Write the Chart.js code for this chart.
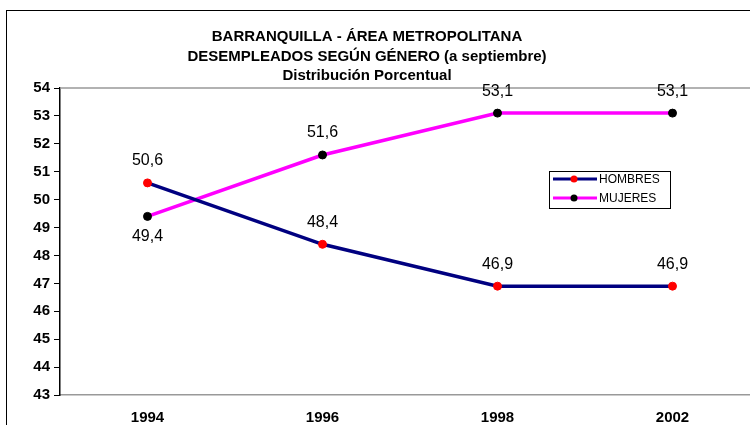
<!DOCTYPE html>
<html>
<head>
<meta charset="utf-8">
<script src="https://cdn.jsdelivr.net/npm/chart.js@4.4.1/dist/chart.umd.min.js"></script>
<style>
    html, body { margin: 0; padding: 0; background: #fff; overflow: hidden; width: 750px; height: 425px; }
    #frame { position: absolute; left: 6px; top: 10px; width: 820px; height: 500px; border: 1.5px solid #000; box-sizing: border-box; }
    #chart { position: absolute; left: 0; top: 0; }
</style>
</head>
<body>
<div id="frame"></div>
<canvas id="chart" width="772" height="425"></canvas>
<script>
// datos
var years = ['1994', '1996', '1998', '2002'];
var hombres = [50.6, 48.4, 46.9, 46.9];
var mujeres = [49.4, 51.6, 53.1, 53.1];
var titleLines = ['BARRANQUILLA - ÁREA METROPOLITANA', 'DESEMPLEADOS SEGÚN GÉNERO (a septiembre)', 'Distribución Porcentual'];
var yMin = 43, yMax = 54;

function fmt(v) {
    return v.toFixed(1).replace('.', ',');
}

// titulo de tres lineas
var titlePlugin = {
    id: 'titulo',
    afterDraw: function(chart) {
        var ctx = chart.ctx;
        ctx.save();
        ctx.fillStyle = '#000';
        ctx.font = 'bold 15px "Liberation Sans", Arial, sans-serif';
        ctx.textAlign = 'center';
        ctx.textBaseline = 'middle';
        var ys = [37, 57, 76];
        for (var i = 0; i < titleLines.length; i++) {
            ctx.fillText(titleLines[i], 367, ys[i]);
        }
        ctx.restore();
    }
};

// borde superior del area de trazado
var borderPlugin = {
    id: 'bordePlot',
    beforeDatasetsDraw: function(chart) {
        var a = chart.chartArea, ctx = chart.ctx;
        ctx.save();
        ctx.strokeStyle = '#999';
        ctx.lineWidth = 1.5;
        ctx.beginPath();
        ctx.moveTo(a.left, a.top);
        ctx.lineTo(a.right, a.top);
        ctx.lineTo(a.right, a.bottom);
        ctx.stroke();
        ctx.restore();
    }
};

// etiquetas de valores
var labelsPlugin = {
    id: 'etiquetas',
    afterDatasetsDraw: function(chart) {
        var ctx = chart.ctx;
        ctx.save();
        ctx.fillStyle = '#000';
        ctx.font = '16px "Liberation Sans", Arial, sans-serif';
        ctx.textAlign = 'center';
        ctx.textBaseline = 'middle';
        chart.data.datasets.forEach(function(ds, di) {
            var meta = chart.getDatasetMeta(di);
            var other = chart.data.datasets[1 - di].data;
            meta.data.forEach(function(pt, i) {
                var below = ds.data[i] < other[i] && ds.label == 'MUJERES';
                var y = below ? pt.y + 20 : pt.y - 22;
                ctx.fillText(fmt(ds.data[i]), pt.x, y);
            });
        });
        ctx.restore();
    }
};

// leyenda dentro del grafico
var legendPlugin = {
    id: 'leyenda',
    afterDraw: function(chart) {
        var ctx = chart.ctx;
        var x = 549, y = 171, w = 121, h = 37;
        ctx.save();
        ctx.fillStyle = '#fff';
        ctx.fillRect(x, y, w, h);
        ctx.strokeStyle = '#000';
        ctx.lineWidth = 1;
        ctx.strokeRect(x + 0.5, y + 0.5, w, h);
        ctx.font = '12px "Liberation Sans", Arial, sans-serif';
        ctx.textBaseline = 'middle';
        chart.data.datasets.forEach(function(ds, i) {
            var ly = y + 8 + i * 19;
            ctx.strokeStyle = ds.borderColor;
            ctx.lineWidth = 3;
            ctx.beginPath();
            ctx.moveTo(x + 4, ly);
            ctx.lineTo(x + 48, ly);
            ctx.stroke();
            ctx.fillStyle = ds.pointBackgroundColor;
            ctx.beginPath();
            ctx.arc(x + 25, ly, 3.5, 0, Math.PI * 2);
            ctx.fill();
            ctx.fillStyle = '#000';
            ctx.fillText(ds.label, x + 50, ly + 1);
        });
        ctx.restore();
    }
};

var ctx = document.getElementById('chart').getContext('2d');
var myChart = new Chart(ctx, {
    type: 'line',
    data: {
        labels: years,
        datasets: [{
            label: 'HOMBRES',
            data: hombres,
            borderColor: '#000080',
            borderWidth: 3.5,
            pointBackgroundColor: '#ff0000',
            pointBorderColor: '#ff0000',
            pointBorderWidth: 1,
            pointRadius: 4,
            tension: 0,
            fill: false
        }, {
            label: 'MUJERES',
            data: mujeres,
            borderColor: '#ff00ff',
            borderWidth: 3.5,
            pointBackgroundColor: '#000000',
            pointBorderColor: '#000000',
            pointBorderWidth: 1,
            pointRadius: 4,
            tension: 0,
            fill: false
        }]
    },
    options: {
        responsive: false,
        animation: false,
        layout: { padding: { top: 88, left: 0, right: 12, bottom: 0 } },
        plugins: {
            legend: { display: false },
            title: { display: false },
            tooltip: { enabled: false }
        },
        scales: {
            x: {
                offset: true,
                afterFit: function(scale) { scale.height = 30; },
                grid: { display: true, drawOnChartArea: false, drawTicks: false },
                border: { color: '#999', width: 1.5 },
                ticks: {
                    padding: 14,
                    color: '#000',
                    font: { family: '"Liberation Sans", Arial, sans-serif', size: 15, weight: 'bold' }
                }
            },
            y: {
                min: yMin,
                max: yMax,
                afterFit: function(scale) { scale.width = 60; },
                grid: { drawOnChartArea: false, drawTicks: true, tickLength: 6, color: '#000' },
                border: { color: '#000', width: 1.5 },
                ticks: {
                    stepSize: 1,
                    padding: 4,
                    color: '#000',
                    font: { family: '"Liberation Sans", Arial, sans-serif', size: 15, weight: 'bold' }
                }
            }
        }
    },
    plugins: [borderPlugin, labelsPlugin, legendPlugin, titlePlugin]
});
</script>
</body>
</html>
